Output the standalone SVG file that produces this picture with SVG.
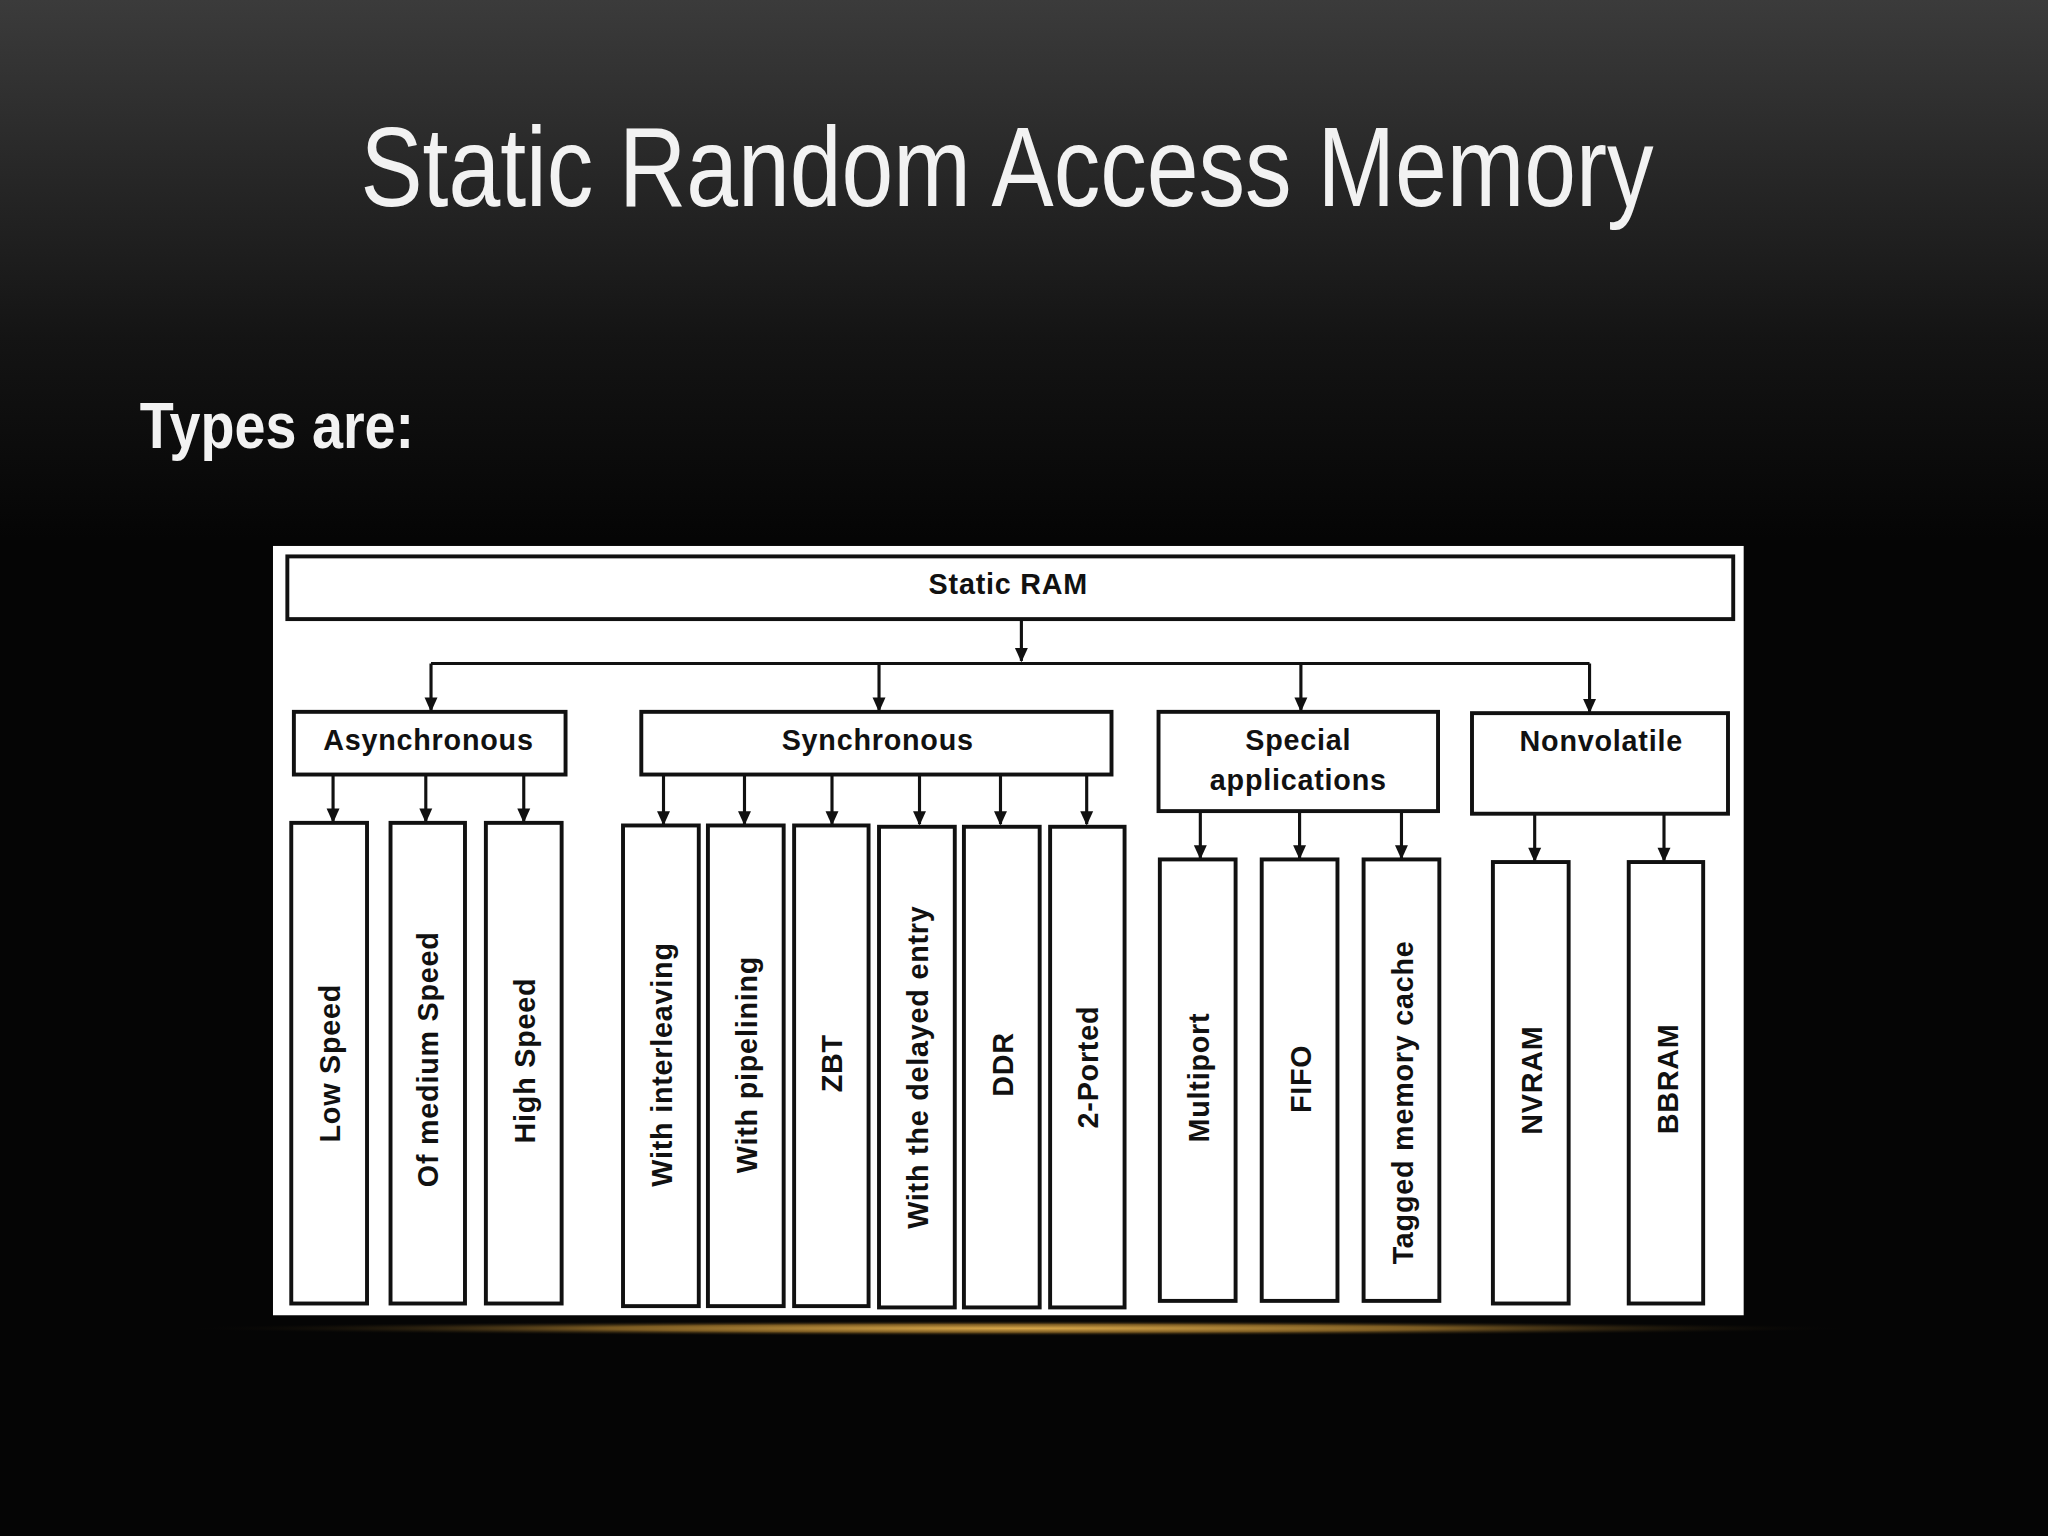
<svg xmlns="http://www.w3.org/2000/svg" width="2048" height="1536" viewBox="0 0 2048 1536">
<defs>
<linearGradient id="bg" x1="0" y1="0" x2="0" y2="1">
<stop offset="0" stop-color="#3b3b3b"/><stop offset="0.22" stop-color="#141414"/><stop offset="0.35" stop-color="#050505"/><stop offset="1" stop-color="#050505"/>
</linearGradient>
<radialGradient id="glow" cx="0.5" cy="0.5" r="0.5">
<stop offset="0" stop-color="#d9a84a"/><stop offset="0.5" stop-color="#7a5a22"/><stop offset="1" stop-color="#050505" stop-opacity="0"/>
</radialGradient>
<marker id="ah" viewBox="0 0 10 10" refX="9" refY="5" markerWidth="13" markerHeight="11" markerUnits="userSpaceOnUse" orient="auto"><path d="M0,0.5 L10,5 L0,9.5 z" fill="#111"/></marker>
<style>
.b{fill:#fff;stroke:#111;stroke-width:3}
.t{font-family:"Liberation Sans",Arial,sans-serif;font-weight:bold;font-size:22px;fill:#111;text-anchor:middle;letter-spacing:0.6px}
.c{stroke:#111;stroke-width:2.4;fill:none}
.a{stroke:#111;stroke-width:2.4;fill:none;marker-end:url(#ah)}
</style>
</defs>
<rect width="2048" height="1536" fill="url(#bg)"/>
<g transform="scale(1.30612)">
<ellipse cx="780" cy="1017" rx="640" ry="6" fill="url(#glow)"/>
<text x="771" y="158" font-family="Liberation Sans,Arial,sans-serif" font-size="86" fill="#f2f2f2" text-anchor="middle" textLength="990" lengthAdjust="spacingAndGlyphs">Static Random Access Memory</text>
<text x="107" y="343" font-family="Liberation Sans,Arial,sans-serif" font-weight="bold" font-size="50" fill="#f2f2f2" textLength="210" lengthAdjust="spacingAndGlyphs">Types are:</text>
<rect x="209" y="418" width="1126" height="589" fill="#fff"/>
<g id="connectors">
<path class="a" d="M782,474 V506"/>
<path class="c" d="M330,508 H1217"/>
<path class="a" d="M330,508 V544"/><path class="a" d="M673,508 V544"/><path class="a" d="M996,508 V544"/><path class="a" d="M1217,508 V545"/>
<path class="a" d="M255,593 V629"/><path class="a" d="M326,593 V629"/><path class="a" d="M401,593 V629"/>
<path class="a" d="M508,593 V631"/><path class="a" d="M570,593 V631"/><path class="a" d="M637,593 V631"/><path class="a" d="M704,593 V631"/><path class="a" d="M766,593 V631"/><path class="a" d="M832,593 V631"/>
<path class="a" d="M919,621 V657"/><path class="a" d="M995,621 V657"/><path class="a" d="M1073,621 V657"/>
<path class="a" d="M1175,623 V659"/><path class="a" d="M1274,623 V659"/>
</g>
<g id="root"><rect class="b" x="220" y="426" width="1107" height="48"/><text class="t" x="772" y="455">Static RAM</text></g>
<g id="async"><rect class="b" x="225" y="545" width="208" height="48"/><text class="t" x="328" y="574">Asynchronous</text></g>
<g id="sync"><rect class="b" x="491" y="545" width="360" height="48"/><text class="t" x="672" y="574">Synchronous</text></g>
<g id="special"><rect class="b" x="887" y="545" width="214" height="76"/><text class="t" x="994" y="574">Special</text><text class="t" x="994" y="605">applications</text></g>
<g id="nonvol"><rect class="b" x="1127" y="546" width="196" height="77"/><text class="t" x="1226" y="575">Nonvolatile</text></g>
<g id="low"><rect class="b" x="223" y="630" width="58" height="368"/><text class="t" dominant-baseline="central" transform="translate(253,814) rotate(-90)">Low Speed</text></g>
<g id="med"><rect class="b" x="299" y="630" width="57" height="368"/><text class="t" dominant-baseline="central" transform="translate(328,811) rotate(-90)">Of medium Speed</text></g>
<g id="high"><rect class="b" x="372" y="630" width="58" height="368"/><text class="t" dominant-baseline="central" transform="translate(402,812) rotate(-90)">High Speed</text></g>
<g id="inter"><rect class="b" x="477" y="632" width="58" height="368"/><text class="t" dominant-baseline="central" transform="translate(507,815) rotate(-90)">With interleaving</text></g>
<g id="pipe"><rect class="b" x="542" y="632" width="58" height="368"/><text class="t" dominant-baseline="central" transform="translate(572,815) rotate(-90)">With pipelining</text></g>
<g id="zbt"><rect class="b" x="608" y="632" width="57" height="368"/><text class="t" dominant-baseline="central" transform="translate(637,814) rotate(-90)">ZBT</text></g>
<g id="delay"><rect class="b" x="673" y="633" width="58" height="368"/><text class="t" dominant-baseline="central" transform="translate(703,817) rotate(-90)">With the delayed entry</text></g>
<g id="ddr"><rect class="b" x="738" y="633" width="58" height="368"/><text class="t" dominant-baseline="central" transform="translate(768,815) rotate(-90)">DDR</text></g>
<g id="ported"><rect class="b" x="804" y="633" width="57" height="368"/><text class="t" dominant-baseline="central" transform="translate(833,817) rotate(-90)">2-Ported</text></g>
<g id="multi"><rect class="b" x="888" y="658" width="58" height="338"/><text class="t" dominant-baseline="central" transform="translate(918,825) rotate(-90)">Multiport</text></g>
<g id="fifo"><rect class="b" x="966" y="658" width="58" height="338"/><text class="t" dominant-baseline="central" transform="translate(996,826) rotate(-90)">FIFO</text></g>
<g id="tagged"><rect class="b" x="1044" y="658" width="58" height="338"/><text class="t" dominant-baseline="central" transform="translate(1074,844) rotate(-90)">Tagged memory cache</text></g>
<g id="nvram"><rect class="b" x="1143" y="660" width="58" height="338"/><text class="t" dominant-baseline="central" transform="translate(1173,827) rotate(-90)">NVRAM</text></g>
<g id="bbram"><rect class="b" x="1247" y="660" width="57" height="338"/><text class="t" dominant-baseline="central" transform="translate(1277,826) rotate(-90)">BBRAM</text></g>
</g>
</svg>
